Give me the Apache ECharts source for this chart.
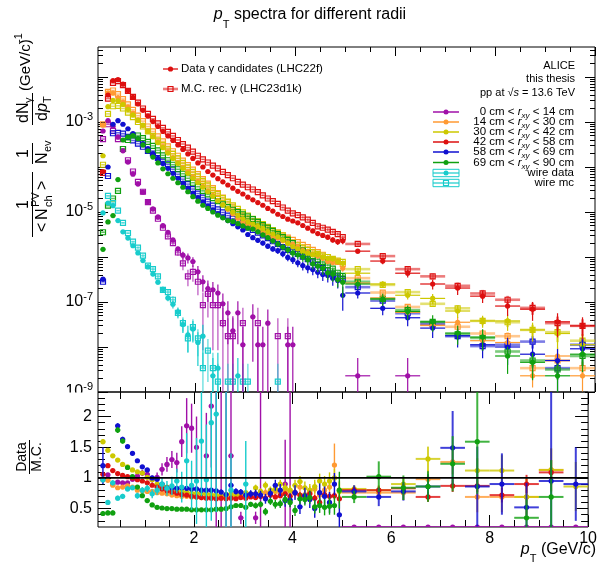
<!DOCTYPE html>
<html>
<head>
<meta charset="utf-8">
<script src="https://cdn.jsdelivr.net/npm/echarts@6/dist/echarts.min.js"></script>
<style>
  html, body { margin: 0; background: #fff; }
  #chart { width: 600px; height: 568px; }
</style>
</head>
<body>
<div id="chart"></div>
<script>
// bin centres (GeV/c): 0.1 wide up to 5, then 0.5 wide
const pt = [0.15,0.25,0.35,0.45,0.55,0.65,0.75,0.85,0.95,1.05,
  1.15,1.25,1.35,1.45,1.55,1.65,1.75,1.85,1.95,2.05,
  2.15,2.25,2.35,2.45,2.55,2.65,2.75,2.85,2.95,3.05,
  3.15,3.25,3.35,3.45,3.55,3.65,3.75,3.85,3.95,4.05,
  4.15,4.25,4.35,4.45,4.55,4.65,4.75,4.85,4.95,
  5.25,5.75,6.25,6.75,7.25,7.75,8.25,8.75,9.25,9.75];

// spectra, stored as log10 of the yield
const purpleDataLog = [-3.20,-2.97,-3.10,-3.33,-3.64,-3.89,-4.16,-4.38,-4.56,-4.77,
  -4.93,-5.11,-5.30,-5.45,-5.62,-5.82,-5.96,-6.02,-6.10,-6.33,
  -6.55,-6.70,-6.73,-6.80,-7.04,-7.24,-7.64,-7.24,-7.95,null,
  -7.33,-7.95,-7.95,-7.47,null,null,null,-7.95,-7.95,null,
  null,null,null,null,null,null,null,null,null,
  -8.64,null,-8.64,null,null,null,null,null,null,null];
const purpleMCLog = [-3.38,-3.05,-3.20,-3.38,-3.60,-3.85,-4.10,-4.33,-4.55,-4.78,
  -4.97,-5.15,-5.35,-5.54,-5.69,-5.90,-6.14,-6.43,-6.33,-6.55,
  -7.07,-6.82,-7.07,-7.07,-7.47,-7.76,-7.76,null,-7.47,null,
  null,-7.47,null,null,null,-7.76,null,-7.76,null,null,
  null,null,null,null,null,null,null,null,null,
  null,null,null,null,null,null,null,null,null,null];
const orangeDataLog = [-3.07,-2.35,-2.36,-2.46,-2.56,-2.67,-2.80,-2.96,-3.08,-3.21,
  -3.32,-3.44,-3.55,-3.67,-3.79,-3.90,-4.01,-4.11,-4.22,-4.32,
  -4.43,-4.53,-4.63,-4.74,-4.84,-4.94,-5.04,-5.14,-5.22,-5.28,
  -5.35,-5.40,-5.44,-5.50,-5.55,-5.58,-5.64,-5.69,-5.72,-5.78,
  -5.86,-5.90,-5.95,-5.98,-6.03,-6.10,-6.12,-6.09,-6.25,
  -6.58,-6.91,-7.23,-7.52,-7.45,-7.86,-7.90,-8.64,-8.20,-8.64];
const orangeMCLog = [-3.05,-2.33,-2.30,-2.38,-2.49,-2.61,-2.73,-2.86,-2.98,-3.10,
  -3.21,-3.32,-3.43,-3.54,-3.65,-3.75,-3.86,-3.96,-4.06,-4.16,
  -4.27,-4.37,-4.47,-4.58,-4.68,-4.78,-4.88,-4.98,-5.08,-5.15,
  -5.21,-5.26,-5.31,-5.36,-5.41,-5.46,-5.52,-5.57,-5.62,-5.67,
  -5.73,-5.78,-5.84,-5.89,-5.95,-6.00,-6.06,-6.11,-6.16,
  -6.47,-6.79,-7.11,-7.51,-7.55,-7.70,-7.76,-8.47,-8.30,-8.47];
const yellowDataLog = [-3.75,-2.66,-2.52,-2.53,-2.61,-2.72,-2.84,-2.96,-3.07,-3.21,
  -3.33,-3.46,-3.57,-3.69,-3.81,-3.92,-4.03,-4.14,-4.25,-4.35,
  -4.45,-4.55,-4.65,-4.75,-4.84,-4.92,-5.00,-5.08,-5.15,-5.22,
  -5.27,-5.32,-5.37,-5.44,-5.49,-5.55,-5.62,-5.70,-5.77,-5.82,
  -5.88,-5.92,-5.95,-5.94,-6.00,-6.03,-6.04,-6.10,-6.14,
  -6.36,-6.60,-6.85,-6.92,-7.20,-7.42,-7.42,-7.62,-7.70,-7.95];
const yellowMCLog = [-3.95,-2.82,-2.65,-2.64,-2.70,-2.79,-2.89,-3.00,-3.10,-3.21,
  -3.31,-3.41,-3.51,-3.61,-3.71,-3.81,-3.91,-4.01,-4.11,-4.21,
  -4.31,-4.41,-4.51,-4.60,-4.69,-4.77,-4.85,-4.93,-5.01,-5.08,
  -5.15,-5.21,-5.27,-5.33,-5.40,-5.46,-5.52,-5.60,-5.68,-5.74,
  -5.79,-5.84,-5.89,-5.93,-5.97,-6.00,-6.04,-6.08,-6.11,
  -6.27,-6.62,-6.78,-7.04,-7.14,-7.42,-7.45,-7.62,-7.67,-7.86];
const redDataLog = [-4.10,-2.40,-2.08,-2.06,-2.16,-2.30,-2.45,-2.60,-2.74,-2.87,
  -2.99,-3.10,-3.21,-3.31,-3.41,-3.51,-3.61,-3.71,-3.81,-3.91,
  -4.00,-4.10,-4.18,-4.26,-4.33,-4.40,-4.47,-4.54,-4.60,-4.67,
  -4.73,-4.79,-4.85,-4.92,-4.98,-5.05,-5.10,-5.16,-5.20,-5.24,
  -5.30,-5.36,-5.42,-5.48,-5.52,-5.56,-5.62,-5.66,-5.64,
  -5.87,-6.09,-6.36,-6.60,-6.69,-6.87,-7.09,-7.16,-7.44,-7.53];
const redMCLog = [-4.13,-2.48,-2.13,-2.09,-2.18,-2.31,-2.44,-2.57,-2.70,-2.82,
  -2.93,-3.03,-3.13,-3.22,-3.31,-3.40,-3.49,-3.57,-3.66,-3.75,
  -3.83,-3.90,-3.97,-4.03,-4.11,-4.18,-4.25,-4.33,-4.39,-4.45,
  -4.50,-4.56,-4.63,-4.70,-4.76,-4.82,-4.90,-4.97,-5.03,-5.07,
  -5.12,-5.17,-5.24,-5.32,-5.35,-5.39,-5.44,-5.49,-5.56,
  -5.71,-5.98,-6.27,-6.43,-6.64,-6.81,-6.95,-7.13,-7.47,-7.53];
const blueDataLog = [-6.49,-4.00,-3.05,-2.97,-3.05,-3.15,-3.26,-3.37,-3.48,-3.59,
  -3.70,-3.81,-3.92,-4.03,-4.14,-4.25,-4.36,-4.47,-4.58,-4.68,
  -4.78,-4.87,-4.96,-5.04,-5.12,-5.19,-5.26,-5.33,-5.40,-5.50,
  -5.57,-5.63,-5.69,-5.76,-5.82,-5.86,-5.93,-6.01,-6.06,-6.13,
  -6.19,-6.24,-6.28,-6.34,-6.39,-6.41,-6.47,-6.52,-6.85,
  -6.80,-7.14,-7.35,-7.58,-7.75,-7.95,-8.00,-8.16,-8.30,-8.04];
const blueMCLog = [-6.55,-4.20,-3.25,-3.24,-3.26,-3.33,-3.41,-3.48,-3.55,-3.64,
  -3.70,-3.80,-3.88,-3.94,-4.05,-4.16,-4.27,-4.38,-4.49,-4.59,
  -4.68,-4.77,-4.86,-4.94,-5.01,-5.08,-5.15,-5.22,-5.28,-5.34,
  -5.40,-5.46,-5.52,-5.58,-5.65,-5.71,-5.78,-5.84,-5.88,-5.93,
  -5.99,-6.05,-6.12,-6.18,-6.24,-6.30,-6.37,-6.43,-6.49,
  -6.67,-6.97,-7.25,-7.48,-7.76,-7.98,-7.95,-7.88,-8.47,-7.95];
const greenDataLog = [-5.83,-5.22,-5.08,-4.28,-3.40,-3.33,-3.30,-3.37,-3.51,-3.64,
  -3.78,-3.91,-4.04,-4.15,-4.25,-4.35,-4.45,-4.55,-4.66,-4.76,
  -4.85,-4.92,-5.00,-5.07,-5.13,-5.19,-5.21,-5.26,-5.31,-5.36,
  -5.38,-5.44,-5.51,-5.57,-5.64,-5.71,-5.78,-5.84,-5.91,-5.95,
  -6.00,-6.06,-6.15,-6.20,-6.25,-6.35,-6.38,-6.50,-6.56,
  -6.60,-6.93,-7.21,-7.44,-7.69,-7.78,-8.20,-8.34,-8.64,-8.16];
const greenMCLog = [-5.45,-4.86,-4.70,-4.53,-3.60,-3.40,-3.30,-3.30,-3.36,-3.44,
  -3.53,-3.63,-3.74,-3.85,-3.95,-4.05,-4.15,-4.25,-4.35,-4.44,
  -4.53,-4.61,-4.69,-4.76,-4.83,-4.89,-4.95,-5.00,-5.05,-5.10,
  -5.16,-5.22,-5.29,-5.35,-5.42,-5.49,-5.56,-5.62,-5.69,-5.80,
  -5.86,-5.92,-5.98,-6.05,-6.11,-6.18,-6.26,-6.35,-6.42,
  -6.55,-6.93,-7.18,-7.44,-7.72,-7.80,-8.10,-8.30,-8.50,-8.20];
const cyanDataLog = [-5.02,-4.80,-4.86,-5.19,-5.44,-5.58,-5.75,-5.91,-6.08,-6.22,
  -6.38,-6.56,-6.72,-6.91,-7.05,-7.22,-7.50,-7.73,-7.60,-7.90,
  -7.76,null,-8.64,-8.47,null,null,null,-8.64,null,null,
  null,null,null,null,null,null,null,null,null,null,
  null,null,null,null,null,null,null,null,null,
  null,null,null,null,null,null,null,null,null,null];
const cyanMCLog = [null,-4.64,-4.80,-4.97,-5.24,-5.47,-5.66,-5.79,-5.97,-6.19,
  -6.27,-6.43,-6.73,-6.78,-6.95,-7.24,-7.47,-7.81,-7.56,-7.81,
  -8.47,-8.08,-8.47,-8.77,null,-8.77,-8.77,null,-8.77,-8.77,
  null,null,null,null,null,-8.77,null,null,null,null,
  null,null,null,null,null,null,null,null,null,
  null,null,null,null,null,null,null,null,null,null];

// relative uncertainties of the spectra
const errDataMain = [.02,.02,.02,.02,.02,.02,.02,.02,.02,.02,
  .02,.02,.02,.02,.02,.02,.02,.02,.02,.02,
  .03,.03,.03,.03,.04,.04,.04,.04,.05,.05,
  .05,.06,.06,.06,.07,.07,.08,.08,.09,.09,
  .10,.10,.11,.12,.12,.13,.14,.15,.16,
  .12,.15,.20,.25,.30,.30,.40,.45,.55,.55];
const errDataOuter = [.05,.03,.02,.02,.02,.02,.02,.02,.02,.02,
  .02,.02,.02,.02,.02,.02,.03,.03,.03,.03,
  .04,.04,.04,.05,.05,.06,.06,.07,.08,.08,
  .10,.12,.12,.13,.14,.16,.16,.18,.20,.20,
  .22,.24,.25,.26,.28,.30,.32,.34,.55,
  .25,.30,.35,.40,.45,.50,.60,.60,.80,.60];
const errMCMain = [.02,.01,.01,.01,.01,.01,.01,.01,.01,.01,
  .01,.01,.01,.01,.01,.01,.01,.01,.01,.01,
  .02,.02,.02,.02,.02,.02,.02,.02,.03,.03,
  .03,.03,.03,.04,.04,.04,.04,.05,.05,.05,
  .05,.06,.06,.06,.07,.07,.08,.08,.08,
  .08,.10,.12,.15,.18,.20,.22,.30,.40,.40];
const purpleDataErr = [.02,.02,.02,.02,.02,.03,.03,.03,.04,.04,
  .05,.06,.07,.08,.10,.12,.20,.25,.25,.35,
  .40,.50,.50,.55,.70,.80,1.1,.80,1.5,0,
  .90,1.5,1.5,1.0,0,0,0,1.5,1.5,0,
  0,0,0,0,0,0,0,0,0,
  1.5,0,1.5,0,0,0,0,0,0,0];
const purpleMCErr = [.02,.02,.02,.02,.02,.03,.03,.03,.04,.04,
  .05,.06,.07,.08,.10,.15,.30,.40,.40,.50,
  .90,.70,.90,.90,1.2,1.5,1.5,0,1.2,0,
  0,1.2,0,0,0,1.5,0,1.5,0,0,
  0,0,0,0,0,0,0,0,0,
  0,0,0,0,0,0,0,0,0,0];
const cyanDataErr = [.03,.03,.03,.03,.04,.04,.05,.06,.07,.08,
  .10,.12,.14,.16,.20,.25,.35,.60,.50,.70,
  .80,0,1.5,1.2,0,0,0,1.5,0,0,
  0,0,0,0,0,0,0,0,0,0,
  0,0,0,0,0,0,0,0,0,
  0,0,0,0,0,0,0,0,0,0];
const cyanMCErr = [0,.03,.03,.03,.04,.04,.05,.06,.07,.08,
  .10,.12,.14,.16,.20,.25,.35,.50,.50,.60,
  1.2,.80,1.2,1.5,0,1.5,1.5,0,1.5,1.5,
  0,0,0,0,0,1.5,0,0,0,0,
  0,0,0,0,0,0,0,0,0,
  0,0,0,0,0,0,0,0,0,0];

// Data / M.C. ratios and their absolute uncertainties
const purpleRatio = [0.97,1.05,0.90,0.93,0.92,0.92,0.98,1.03,1.08,1.06,
  0.98,1.01,1.14,1.22,1.30,1.25,1.59,1.85,1.81,1.50,
  null,1.36,2.17,2.80,2.80,2.80,1.36,null,0.35,null,
  null,0.35,2.80,null,null,null,null,0.90,2.80,null,
  null,null,null,null,null,null,null,null,null,
  0.20,0.20,0.20,0.20,0.20,0.20,0.20,0.20,0.20,0.20];
const purpleRatioErr = [.03,.03,.03,.03,.03,.03,.04,.04,.05,.05,
  .06,.08,.10,.12,.14,.16,.25,.45,.40,.50,
  0,.70,1.0,2.6,2.6,2.6,1.2,0,.10,0,
  0,.10,2.6,0,0,0,0,.72,2.6,0,
  0,0,0,0,0,0,0,0,0,
  0,0,0,0,0,0,0,0,0,0];
const orangeRatio = [0.97,0.96,0.88,0.84,0.85,0.87,0.85,0.80,0.79,0.78,
  0.78,0.76,0.75,0.74,0.72,0.71,0.70,0.70,0.69,0.69,
  0.68,0.69,0.68,0.70,0.69,0.68,0.70,0.69,0.71,0.70,
  0.72,0.74,0.70,0.76,0.73,0.78,0.75,0.80,0.78,0.75,
  0.85,0.73,0.77,0.82,0.72,0.80,0.85,1.21,0.80,
  0.76,0.76,0.76,0.98,1.26,0.69,0.69,0.69,1.13,null];
const orangeRatioErr = [.03,.03,.02,.02,.02,.02,.02,.02,.02,.02,
  .02,.02,.02,.02,.02,.02,.02,.02,.02,.02,
  .02,.02,.03,.03,.03,.03,.03,.04,.04,.04,
  .04,.05,.05,.06,.06,.07,.07,.08,.08,.09,
  .09,.10,.10,.11,.12,.13,.14,.35,.15,
  .08,.10,.12,.15,.20,.25,.25,.30,.35,0];
const yellowRatio = [1.59,1.45,1.36,1.29,1.22,1.18,1.13,1.10,1.08,1.01,
  0.97,0.90,0.87,0.85,0.83,0.80,0.78,0.77,0.75,0.75,
  0.74,0.74,0.73,0.72,0.71,0.73,0.74,0.72,0.75,0.76,
  0.74,0.84,0.78,0.88,0.80,0.82,0.90,0.84,0.80,0.88,
  0.94,0.84,0.80,0.86,0.95,0.90,0.95,1.00,0.78,
  0.82,0.80,0.90,1.31,null,1.12,1.12,0.69,1.13,0.86];
const yellowRatioErr = [.04,.03,.03,.02,.02,.02,.02,.02,.02,.02,
  .02,.02,.02,.02,.02,.02,.02,.02,.02,.02,
  .02,.02,.03,.03,.03,.03,.03,.04,.04,.04,
  .04,.05,.05,.06,.06,.07,.07,.08,.08,.09,
  .09,.10,.10,.11,.12,.13,.14,.15,.15,
  .06,.08,.10,.20,0,.20,.25,.30,.35,.40];
const redRatio = [1.06,1.20,1.12,1.07,1.04,1.02,1.00,0.97,0.95,0.92,
  0.88,0.85,0.82,0.79,0.77,0.75,0.73,0.72,0.70,0.69,
  0.68,0.67,0.67,0.66,0.67,0.66,0.67,0.66,0.68,0.67,
  0.69,0.68,0.70,0.67,0.72,0.69,0.71,0.74,0.70,0.76,
  0.72,0.69,0.74,0.67,0.60,0.73,0.70,0.71,0.66,
  0.80,0.80,0.83,0.69,0.87,0.87,0.72,0.90,1.09,null];
const redRatioErr = [.03,.03,.02,.02,.02,.02,.02,.02,.02,.02,
  .02,.02,.02,.02,.02,.02,.02,.02,.02,.02,
  .02,.02,.02,.02,.02,.02,.02,.03,.03,.03,
  .03,.03,.03,.03,.04,.04,.04,.04,.04,.05,
  .05,.05,.05,.05,.06,.06,.06,.06,.07,
  .05,.06,.07,.08,.10,.10,.12,.15,.20,0];
const blueRatio = [1.20,null,null,1.85,1.63,1.51,1.40,1.28,1.18,1.13,
  1.00,0.98,0.90,0.84,0.84,0.83,0.84,0.83,0.82,0.82,
  0.80,0.80,0.80,0.79,0.77,0.73,0.88,0.78,0.77,0.72,
  0.74,0.74,0.72,0.66,0.75,0.88,0.80,0.63,0.64,0.76,
  0.53,0.71,0.65,0.50,0.76,0.70,0.60,0.90,0.40,
  0.78,0.69,0.78,0.86,1.49,0.86,0.90,0.52,0.95,0.90];
const blueRatioErr = [.30,0,0,.04,.04,.03,.03,.03,.03,.03,
  .03,.03,.03,.03,.03,.03,.03,.03,.03,.03,
  .03,.03,.03,.04,.04,.04,.05,.05,.05,.06,
  .06,.07,.07,.08,.08,.09,.10,.10,.11,.12,
  .12,.13,.14,.15,.15,.16,.17,.18,.20,
  .10,.15,.15,.20,.60,.65,.50,.40,1.5,.60];
const greenRatio = [0.42,0.43,0.43,1.78,1.60,1.17,1.02,0.85,0.71,0.63,
  0.56,0.52,0.51,0.50,0.50,0.49,0.49,0.49,0.48,0.48,
  0.48,0.48,0.48,0.49,0.49,0.50,0.53,0.55,0.55,0.52,
  0.57,0.55,0.57,0.45,0.62,0.57,0.58,0.65,0.60,0.47,
  0.66,0.65,0.68,0.53,0.55,0.52,0.54,0.55,0.80,
  0.69,1.02,0.84,0.86,1.23,1.59,null,0.35,0.69,null];
const greenRatioErr = [.04,.04,.04,.05,.04,.03,.03,.02,.02,.02,
  .02,.02,.02,.02,.02,.02,.02,.02,.02,.02,
  .02,.02,.02,.02,.03,.03,.03,.03,.04,.04,
  .04,.05,.05,.06,.06,.07,.07,.08,.08,.09,
  .09,.10,.10,.11,.12,.13,.14,.15,.30,
  .10,.25,.20,.25,.45,.85,0,.30,.60,0];
const cyanRatio = [0.97,0.60,0.92,0.67,0.70,0.82,0.84,0.71,0.80,0.83,
  0.74,0.80,0.90,0.83,0.87,0.95,0.85,1.28,0.88,0.95,
  1.60,0.97,1.90,2.04,null,2.80,0.80,null,null,0.90,
  null,null,null,null,null,null,null,null,null,null,
  null,null,null,null,null,null,null,null,null,
  null,null,null,null,null,null,null,null,null,null];
const cyanRatioErr = [.05,.04,.04,.04,.04,.04,.04,.05,.05,.06,
  .07,.08,.10,.12,.15,.20,.25,.45,.40,.70,
  .90,.90,1.6,1.6,0,2.6,.60,0,0,.70,
  0,0,0,0,0,0,0,0,0,0,
  0,0,0,0,0,0,0,0,0,
  0,0,0,0,0,0,0,0,0,0];

const radiusLow = [0, 14, 30, 42, 58, 69];
const radiusHigh = [14, 30, 42, 58, 69, 90];

// axis ticks
const xLabels = [2, 4, 6, 8, 10];
const xMajor = [2, 4, 6, 8, 10];
const xMinor = [0.5, 1, 1.5, 2.5, 3, 3.5, 4.5, 5, 5.5, 6.5, 7, 7.5, 8.5, 9, 9.5];
const logLabels = [-9, -7, -5, -3];
const logMajor = [-9, -8, -7, -6, -5, -4, -3, -2];
const rLabels = [0.5, 1, 1.5, 2];
const rMinor = [0.3,0.4,0.6,0.7,0.8,0.9,1.1,1.2,1.3,1.4,1.6,1.7,1.8,1.9,2.1,2.2,2.3];

const X_MIN = 0.05, X_MAX = 10;
const TOP_MIN = -9, TOP_MAX = -9 + 345 / 45;
const R_MIN = 0.2, R_MAX = 2.4;

const logMinor = [];
for (let n = -9; n <= -2; n++) {
  for (let k = 2; k <= 9; k++) {
    const v = n + Math.log10(k);
    if (v < TOP_MAX) logMinor.push(v);
  }
}

const FONT = '"Liberation Sans", Arial, Helvetica, sans-serif';
const COL = {
  purple: '#a010a8', orange: '#ff9a33', yellow: '#cdc800', red: '#dd1010',
  blue: '#1010d0', green: '#10a010', cyan: '#18cccc'
};

function fade(hex, a) {
  const n = parseInt(hex.slice(1), 16);
  return `rgba(${(n >> 16) & 255},${(n >> 8) & 255},${n & 255},${a})`;
}

function topPoints(logs, rel) {
  const out = [];
  logs.forEach((lv, i) => {
    if (lv === null) return;
    const r = rel[i];
    const hi = lv + Math.log10(1 + r);
    const lo = r < 1 ? lv + Math.log10(1 - r) : TOP_MIN - 1;
    out.push([pt[i], lv, Math.max(lo, TOP_MIN - 1), hi, pt[i] > 5 ? 0.25 : 0.05]);
  });
  return out;
}

function ratioPoints(vals, errs) {
  const out = [];
  vals.forEach((v, i) => {
    if (v === null) return;
    out.push([pt[i], v, v - errs[i], v + errs[i], pt[i] > 5 ? 0.25 : 0.05]);
  });
  return out;
}

function pointSeries(name, data, color, isMC, grid) {
  return {
    type: 'custom', name, data, clip: true, silent: true,
    xAxisIndex: grid * 4, yAxisIndex: grid * 4,
    z: isMC ? 3 : 4,
    renderItem(params, api) {
      const x = api.value(0), v = api.value(1);
      const lo = api.value(2), hi = api.value(3), hw = api.value(4);
      const c = api.coord([x, v]);
      const pLo = api.coord([x, lo]), pHi = api.coord([x, hi]);
      const pL = api.coord([x - hw, v]), pR = api.coord([x + hw, v]);
      const wide = hw > 0.1;
      let stroke, lw;
      if (isMC) { stroke = fade(color, 0.55); lw = wide ? 2.6 : 1.6; }
      else if (grid === 1 && wide) { stroke = fade(color, 0.8); lw = 2; }
      else { stroke = color; lw = grid === 1 ? 1.4 : 1.2; }
      const kids = [
        { type: 'line', shape: { x1: c[0], y1: pLo[1], x2: c[0], y2: pHi[1] }, style: { stroke, lineWidth: lw } },
        { type: 'line', shape: { x1: pL[0], y1: c[1], x2: pR[0], y2: c[1] }, style: { stroke, lineWidth: lw } }
      ];
      if (isMC) {
        kids.push({ type: 'rect', shape: { x: c[0] - 2.5, y: c[1] - 2.5, width: 5, height: 5 },
          style: { fill: 'none', stroke: color, lineWidth: 1.2 } });
      } else {
        kids.push({ type: 'circle', shape: { cx: c[0], cy: c[1], r: 2.6 }, style: { fill: color } });
      }
      return { type: 'group', children: kids };
    }
  };
}

const tickStyle = { color: '#000', width: 1 };

function xAx(grid, pos, ticks, len, labels) {
  return {
    type: 'value', gridIndex: grid, position: pos, min: X_MIN, max: X_MAX,
    axisLine: { show: false }, splitLine: { show: false },
    axisTick: { show: true, inside: true, length: len, customValues: ticks, lineStyle: tickStyle },
    axisLabel: labels
      ? { show: true, customValues: labels, color: '#000', fontSize: 16, fontFamily: FONT, margin: 4 }
      : { show: false }
  };
}

function yAx(grid, pos, min, max, ticks, len, label) {
  return {
    type: 'value', gridIndex: grid, position: pos, min, max,
    axisLine: { show: false }, splitLine: { show: false },
    axisTick: { show: true, inside: true, length: len, customValues: ticks, lineStyle: tickStyle },
    axisLabel: label || { show: false }
  };
}

const logLabel = {
  show: true, customValues: logLabels, margin: 5,
  formatter: v => `{b|10}{s|${v}}`,
  rich: {
    b: { fontSize: 16, fontFamily: FONT, color: '#000', lineHeight: 22 },
    s: { fontSize: 11, fontFamily: FONT, color: '#000', lineHeight: 8, verticalAlign: 'top' }
  }
};
const ratioLabel = { show: true, customValues: rLabels, margin: 6, color: '#000', fontSize: 16, fontFamily: FONT };

const groups = [
  { color: COL.purple, d: purpleDataLog, m: purpleMCLog, de: purpleDataErr, me: purpleMCErr, r: purpleRatio, re: purpleRatioErr },
  { color: COL.orange, d: orangeDataLog, m: orangeMCLog, de: errDataMain, me: errMCMain, r: orangeRatio, re: orangeRatioErr },
  { color: COL.yellow, d: yellowDataLog, m: yellowMCLog, de: errDataMain, me: errMCMain, r: yellowRatio, re: yellowRatioErr },
  { color: COL.red, d: redDataLog, m: redMCLog, de: errDataMain, me: errMCMain, r: redRatio, re: redRatioErr },
  { color: COL.blue, d: blueDataLog, m: blueMCLog, de: errDataOuter, me: errMCMain, r: blueRatio, re: blueRatioErr },
  { color: COL.green, d: greenDataLog, m: greenMCLog, de: errDataOuter, me: errMCMain, r: greenRatio, re: greenRatioErr },
  { color: COL.cyan, d: cyanDataLog, m: cyanMCLog, de: cyanDataErr, me: cyanMCErr, r: cyanRatio, re: cyanRatioErr }
];

const series = [];
groups.forEach((g, i) => series.push(pointSeries('mc' + i, topPoints(g.m, g.me), g.color, true, 0)));
groups.forEach((g, i) => series.push(pointSeries('data' + i, topPoints(g.d, g.de), g.color, false, 0)));
groups.forEach((g, i) => series.push(pointSeries('ratio' + i, ratioPoints(g.r, g.re), g.color, false, 1)));
series.push({
  type: 'line', xAxisIndex: 4, yAxisIndex: 4, data: [[X_MIN, 1], [X_MAX, 1]],
  symbol: 'none', silent: true, z: 6, lineStyle: { color: '#000', width: 1.6 }
});

// ---- text & legends ----
function rich(size, extra) {
  return Object.assign({ fontSize: size, fontFamily: FONT, fill: '#000', color: '#000' }, extra || {});
}
function plain(x, y, text, size, extra) {
  return { type: 'text', x, y, z: 60,
    style: Object.assign({ text, fontSize: size, fontFamily: FONT, fill: '#000', verticalAlign: 'middle' }, extra || {}) };
}

const graphic = [];

// title
graphic.push({ type: 'text', x: 310, y: 15, z: 60, style: {
  text: '{i|p}{t|T}{n| spectra for different radii}', align: 'center', verticalAlign: 'middle',
  rich: { i: rich(16, { fontStyle: 'italic', lineHeight: 30 }), t: rich(11, { lineHeight: 7, verticalAlign: 'bottom' }),
    n: rich(16, { lineHeight: 30 }) } } });

// x title
graphic.push({ type: 'text', x: 596, y: 550, z: 60, style: {
  text: '{i|p}{t|T}{n| (GeV/c)}', align: 'right', verticalAlign: 'middle',
  rich: { i: rich(16, { fontStyle: 'italic', lineHeight: 28 }), t: rich(11, { lineHeight: 7, verticalAlign: 'bottom' }),
    n: rich(16, { lineHeight: 28 }) } } });

// y title of the spectra pad (rotated)
const bar = (x1, x2) => ({ type: 'line', shape: { x1, y1: 0, x2, y2: 0 }, style: { stroke: '#000', lineWidth: 1 } });
const lt = (x, y, text, size, extra) => ({ type: 'text', x, y,
  style: Object.assign({ text, fontSize: size, fontFamily: FONT, fill: '#000', verticalAlign: 'middle' }, extra || {}) });
graphic.push({
  type: 'group', x: 32.5, y: 400, rotation: Math.PI / 2, z: 60,
  children: [
    bar(163, 228),
    lt(195.5, -9, '1', 16, { align: 'center' }),
    lt(168, 10, '<', 16), lt(180, 10, 'N', 16), lt(193, 3, 'PV', 11), lt(193, 16, 'ch', 11), lt(210, 10, '>', 16),
    bar(236, 257),
    lt(246.5, -9, '1', 16, { align: 'center' }),
    lt(236, 10, 'N', 16), lt(248, 15, 'ev', 11),
    bar(275, 307),
    lt(277, -9, 'dN', 16), lt(297, -4, 'γ', 11),
    lt(279, 10, 'd', 16), lt(288, 10, 'p', 16, { fontStyle: 'italic' }), lt(297, 15, 'T', 11),
    lt(309, -7, '(GeV/c)', 15), lt(357, -14, '-1', 11)
  ]
});

// y title of the ratio pad (rotated)
graphic.push({
  type: 'group', x: 29.5, y: 457, rotation: Math.PI / 2, z: 60,
  children: [
    bar(-17, 17),
    lt(0, -7, 'Data', 14, { align: 'center' }),
    lt(0, 8, 'M.C.', 14, { align: 'center' })
  ]
});

// hide the lower part of the 10^-9 label, as the ratio pad does
graphic.push({ type: 'rect', z: 50, shape: { x: 30, y: 392.5, width: 67, height: 9 }, style: { fill: '#fff' } });

// upper-left legend
graphic.push({ type: 'line', z: 60, shape: { x1: 163, y1: 69, x2: 178, y2: 69 }, style: { stroke: COL.red, lineWidth: 1.3 } });
graphic.push({ type: 'circle', z: 60, shape: { cx: 170.5, cy: 69, r: 2.6 }, style: { fill: COL.red } });
graphic.push(plain(181, 69, 'Data γ candidates (LHC22f)', 11.5));
graphic.push({ type: 'line', z: 60, shape: { x1: 163, y1: 89, x2: 178, y2: 89 }, style: { stroke: fade(COL.red, 0.55), lineWidth: 2.6 } });
graphic.push({ type: 'rect', z: 60, shape: { x: 168, y: 86.5, width: 5, height: 5 }, style: { fill: 'none', stroke: COL.red, lineWidth: 1.2 } });
graphic.push(plain(181, 89, 'M.C. rec. γ (LHC23d1k)', 11.5));

// upper-right labels
graphic.push(plain(575, 66, 'ALICE', 11, { align: 'right' }));
graphic.push(plain(575, 79, 'this thesis', 11, { align: 'right' }));
graphic.push({ type: 'text', x: 575, y: 93, z: 60, style: {
  text: '{n|pp at }{n|√}{i|s}{n| = 13.6 TeV}', align: 'right', verticalAlign: 'middle',
  rich: { n: rich(11), i: rich(11, { fontStyle: 'italic' }) } } });

// radius legend
const rowY = [112, 122, 132, 142, 152, 162.5];
const rowColors = [COL.purple, COL.orange, COL.yellow, COL.red, COL.blue, COL.green];
rowY.forEach((y, i) => {
  graphic.push({ type: 'line', z: 60, shape: { x1: 433, y1: y, x2: 459, y2: y }, style: { stroke: rowColors[i], lineWidth: 1.5 } });
  graphic.push({ type: 'circle', z: 60, shape: { cx: 446, cy: y, r: 2.5 }, style: { fill: rowColors[i] } });
  graphic.push({ type: 'text', x: 574, y, z: 60, style: {
    text: `{n|${radiusLow[i]} cm < }{i|r}{s|xy}{n| < ${radiusHigh[i]} cm}`, align: 'right', verticalAlign: 'middle',
    rich: { n: rich(11.5, { lineHeight: 16 }), i: rich(11.5, { fontStyle: 'italic', lineHeight: 16 }),
      s: rich(8, { fontStyle: 'italic', lineHeight: 6, verticalAlign: 'bottom' }) } } });
});
[[173, false, 'wire data'], [183, true, 'wire mc']].forEach(([y, mc, label]) => {
  graphic.push({ type: 'rect', z: 60, shape: { x: 433, y: y - 3.7, width: 26, height: 7.4 }, style: { fill: 'none', stroke: COL.cyan, lineWidth: 1 } });
  graphic.push({ type: 'line', z: 60, shape: { x1: 433, y1: y, x2: 459, y2: y }, style: { stroke: COL.cyan, lineWidth: 1.2 } });
  if (mc) graphic.push({ type: 'rect', z: 60, shape: { x: 443.5, y: y - 2.5, width: 5, height: 5 }, style: { fill: 'none', stroke: COL.cyan, lineWidth: 1.2 } });
  else graphic.push({ type: 'circle', z: 60, shape: { cx: 446, cy: y, r: 2.5 }, style: { fill: COL.cyan } });
  graphic.push(plain(574, y, label, 11.5, { align: 'right' }));
});

const option = {
  animation: false,
  backgroundColor: '#fff',
  grid: [
    { left: 98, right: 5, top: 47, height: 345, show: true, borderColor: '#000', borderWidth: 1, backgroundColor: 'transparent' },
    { left: 98, right: 5, top: 392, height: 135, show: true, borderColor: '#000', borderWidth: 1, backgroundColor: 'transparent' }
  ],
  xAxis: [
    xAx(0, 'bottom', xMajor, 9), xAx(0, 'bottom', xMinor, 5), xAx(0, 'top', xMajor, 9), xAx(0, 'top', xMinor, 5),
    xAx(1, 'bottom', xMajor, 12, xLabels), xAx(1, 'bottom', xMinor, 7), xAx(1, 'top', xMajor, 12), xAx(1, 'top', xMinor, 7)
  ],
  yAxis: [
    yAx(0, 'left', TOP_MIN, TOP_MAX, logMajor, 10, logLabel), yAx(0, 'left', TOP_MIN, TOP_MAX, logMinor, 5),
    yAx(0, 'right', TOP_MIN, TOP_MAX, logMajor, 10), yAx(0, 'right', TOP_MIN, TOP_MAX, logMinor, 5),
    yAx(1, 'left', R_MIN, R_MAX, rLabels, 13, ratioLabel), yAx(1, 'left', R_MIN, R_MAX, rMinor, 7),
    yAx(1, 'right', R_MIN, R_MAX, rLabels, 13), yAx(1, 'right', R_MIN, R_MAX, rMinor, 7)
  ],
  series,
  graphic
};

const chart = echarts.init(document.getElementById('chart'), null, { renderer: 'canvas' });
chart.setOption(option);
</script>
</body>
</html>
